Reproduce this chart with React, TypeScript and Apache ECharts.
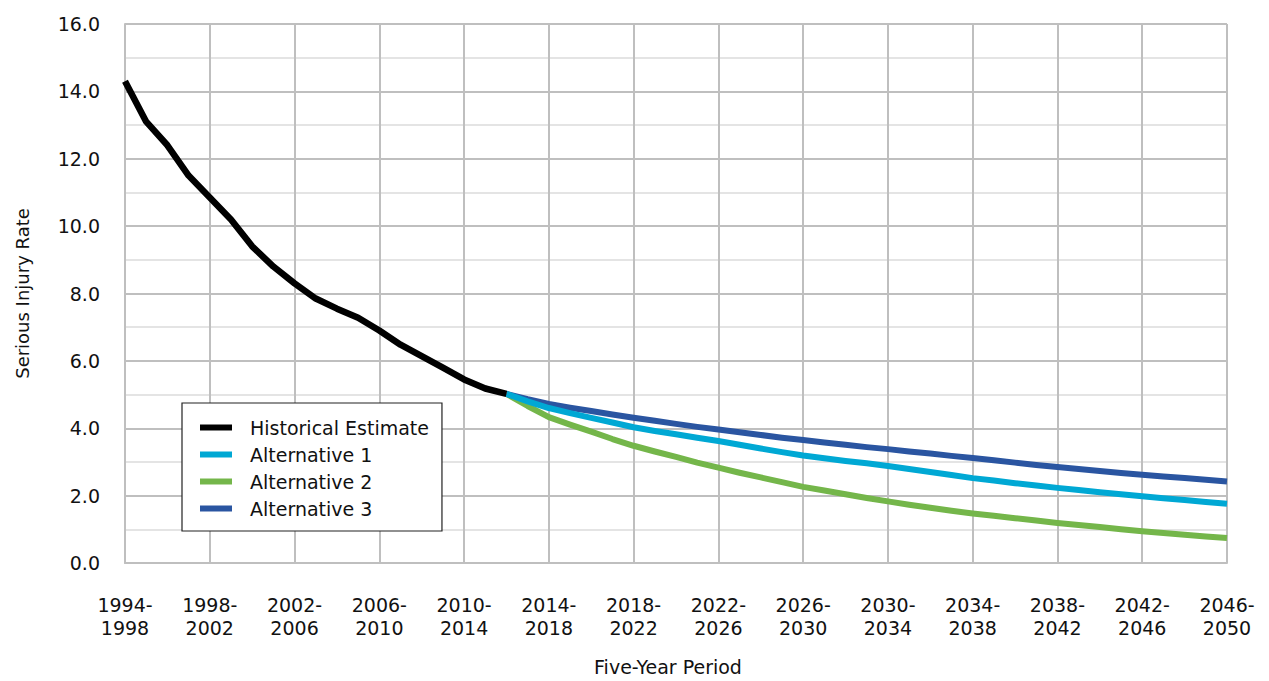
import React, { useEffect, useRef } from "react";
import * as echarts from "echarts";

const periods: string[] = [
  "1994-1998", "1995-1999", "1996-2000", "1997-2001", "1998-2002", "1999-2003",
  "2000-2004", "2001-2005", "2002-2006", "2003-2007", "2004-2008", "2005-2009",
  "2006-2010", "2007-2011", "2008-2012", "2009-2013", "2010-2014", "2011-2015",
  "2012-2016", "2013-2017", "2014-2018", "2015-2019", "2016-2020", "2017-2021",
  "2018-2022", "2019-2023", "2020-2024", "2021-2025", "2022-2026", "2023-2027",
  "2024-2028", "2025-2029", "2026-2030", "2027-2031", "2028-2032", "2029-2033",
  "2030-2034", "2031-2035", "2032-2036", "2033-2037", "2034-2038", "2035-2039",
  "2036-2040", "2037-2041", "2038-2042", "2039-2043", "2040-2044", "2041-2045",
  "2042-2046", "2043-2047", "2044-2048", "2045-2049", "2046-2050",
];

const historical: number[] = [
  14.3, 13.1, 12.4, 11.5, 10.85, 10.2, 9.4, 8.8, 8.3, 7.85, 7.55, 7.28, 6.9,
  6.48, 6.14, 5.8, 5.45, 5.18, 5.02,
];

const alternative1: number[] = [
  5.02, 4.8, 4.6, 4.45, 4.31, 4.17, 4.03, 3.92, 3.82, 3.72, 3.62, 3.51, 3.4,
  3.29, 3.19, 3.11, 3.03, 2.96, 2.88, 2.79, 2.7, 2.61, 2.52, 2.45, 2.37, 2.3,
  2.23, 2.17, 2.1, 2.04, 1.98, 1.92, 1.87, 1.81, 1.76,
];

const alternative2: number[] = [
  5.02, 4.66, 4.33, 4.11, 3.9, 3.68, 3.48, 3.31, 3.15, 2.98, 2.83, 2.68, 2.54,
  2.4, 2.26, 2.15, 2.04, 1.93, 1.83, 1.73, 1.64, 1.55, 1.47, 1.4, 1.33, 1.26,
  1.19, 1.13, 1.07, 1.0, 0.94, 0.89, 0.84, 0.79, 0.74,
];

const alternative3: number[] = [
  5.02, 4.86, 4.72, 4.61, 4.51, 4.41, 4.31, 4.22, 4.13, 4.04, 3.96, 3.88, 3.8,
  3.72, 3.65, 3.58, 3.51, 3.44, 3.38, 3.31, 3.25, 3.18, 3.12, 3.05, 2.98, 2.91,
  2.85, 2.79, 2.73, 2.67, 2.62, 2.57, 2.52, 2.47, 2.42,
];

const seriesNames = ["Historical Estimate", "Alternative 1", "Alternative 2", "Alternative 3"];

const FONT = "DejaVu Sans";

export default function App() {
  const ref = useRef<HTMLDivElement>(null);

  useEffect(() => {
    if (!ref.current) return;
    const chart = echarts.init(ref.current, undefined, { renderer: "svg" });
    const offset = historical.length - 1;
    const pad = (arr: number[]) => [
      ...new Array(offset).fill(null),
      ...arr,
    ];
    const lineSeries = (name: string, data: (number | null)[], color: string, width: number, z: number) => ({
      name,
      type: "line",
      data,
      showSymbol: false,
      symbol: "none",
      smooth: false,
      z,
      itemStyle: { color },
      lineStyle: { color, width, cap: "butt", join: "round" },
    });

    chart.setOption({
      animation: false,
      backgroundColor: "#ffffff",
      grid: { left: 125, width: 1102, top: 24, height: 542, containLabel: false },
      legend: {
        orient: "vertical",
        left: 182,
        top: 403,
        data: seriesNames,
        icon: "rect",
        itemWidth: 32,
        itemHeight: 6,
        itemGap: 6,
        padding: [14, 13, 12, 18],
        backgroundColor: "#ffffff",
        borderColor: "#222222",
        borderWidth: 1.2,
        borderRadius: 0,
        align: "left",
        textStyle: {
          fontFamily: FONT,
          fontSize: 19,
          color: "#111111",
          lineHeight: 21,
          padding: [0, 0, 0, 13],
        },
      },
      xAxis: {
        type: "category",
        data: periods,
        boundaryGap: false,
        name: "Five-Year Period",
        nameLocation: "middle",
        nameGap: 94,
        nameTextStyle: { fontFamily: FONT, fontSize: 19, color: "#111111", padding: [0, 16, 0, 0] },
        axisLine: { show: true, lineStyle: { color: "#bfbfbf", width: 2 } },
        axisTick: { show: false },
        axisLabel: {
          interval: 3,
          margin: 30,
          fontFamily: FONT,
          fontSize: 19,
          color: "#111111",
          lineHeight: 23,
          formatter: (v: string) => v.replace("-", "-\n"),
        },
        splitLine: { show: true, interval: 3, lineStyle: { color: "#bfbfbf", width: 2 } },
      },
      yAxis: {
        type: "value",
        min: 0,
        max: 16,
        interval: 2,
        name: "Serious Injury Rate",
        nameLocation: "middle",
        nameGap: 94,
        nameRotate: 90,
        nameTextStyle: { fontFamily: FONT, fontSize: 18, color: "#111111" },
        axisLine: { show: true, lineStyle: { color: "#bfbfbf", width: 2 } },
        axisTick: { show: false },
        axisLabel: {
          margin: 25,
          fontFamily: FONT,
          fontSize: 19,
          color: "#111111",
          formatter: (v: number) => v.toFixed(1),
        },
        splitLine: { show: true, lineStyle: { color: "#bfbfbf", width: 2 } },
        minorTick: { show: false, splitNumber: 2 },
        minorSplitLine: { show: true, lineStyle: { color: "#e4e4e4", width: 2 } },
      },
      series: [
        lineSeries(seriesNames[0], historical, "#000000", 6.5, 10),
        lineSeries(seriesNames[1], pad(alternative1), "#00A8D4", 6, 8),
        lineSeries(seriesNames[2], pad(alternative2), "#74B64A", 6, 6),
        lineSeries(seriesNames[3], pad(alternative3), "#2A55A1", 6, 7),
      ],
    });
    return () => chart.dispose();
  }, []);

  return (
    <div
      ref={ref}
      style={{ position: "fixed", left: 0, top: 0, width: 1269, height: 681 }}
    />
  );
}
